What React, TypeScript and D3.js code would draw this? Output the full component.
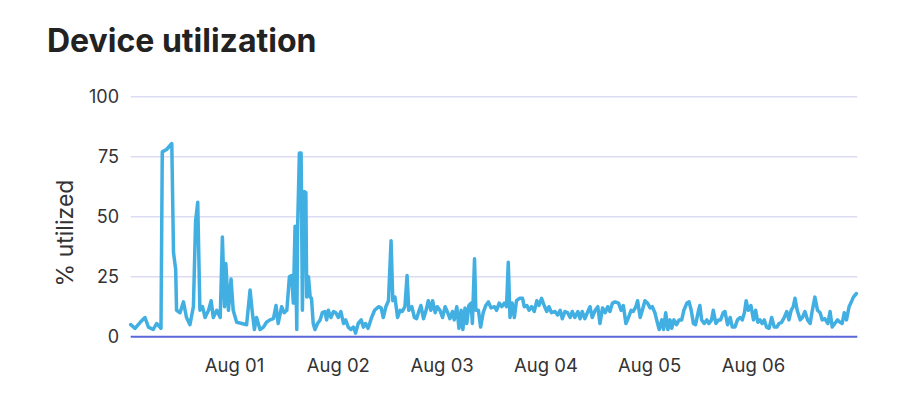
import React from "react";
import * as d3 from "d3";

const chartTitle = "Device utilization";
const yAxisLabel = "% utilized";

const startDate = new Date(2024, 6, 31);
const endDate = new Date(2024, 7, 7);
const xTickDays = [1, 2, 3, 4, 5, 6];
const yTicks = [0, 25, 50, 75, 100];

// hours since Jul 31 00:00
const sampleHours = [
  0, 1.0, 2.2, 3.3, 4.1, 5.2, 6.0, 7.0, 7.3, 8.3, 9.5, 9.9, 10.4, 10.6, 11.4, 12.2, 12.9, 13.7, 14.5, 15.0,
  15.5, 16.0, 16.6, 17.2, 18.0, 18.6, 19.1, 19.9, 20.7, 21.2, 21.7, 22.0, 22.6, 23.2, 23.7, 24.5, 25.7, 26.8,
  27.6, 28.1, 28.6, 29.1, 29.5, 29.9, 30.7, 31.4, 32.2, 33.0, 33.6, 34.1, 34.9, 35.5, 36.1, 36.7, 37.2, 37.6,
  38.0, 38.4, 38.6, 39.0, 39.4, 39.7, 40.1, 40.5, 40.7, 41.1, 41.5, 41.8, 42.2, 42.6, 43.2, 43.8, 44.3, 44.9,
  45.3, 45.7, 46.3, 46.9, 47.4, 48.0, 48.6, 49.2, 49.7, 50.3, 50.9, 51.5, 52.0, 52.6, 53.3, 53.8, 54.3, 54.9,
  55.7, 56.4, 57.3, 57.9, 58.4, 59.0, 59.6, 60.2, 60.6, 61.1, 61.7, 62.3, 62.8, 63.4, 63.9, 64.3, 65.0, 65.6,
  66.1, 66.7, 67.1, 67.7, 68.3, 68.8, 69.4, 69.8, 70.4, 70.9, 71.5, 72.1, 72.7, 73.3, 73.8, 74.4, 74.8, 75.4,
  75.9, 76.4, 76.8, 77.3, 77.7, 78.2, 78.7, 79.0, 79.5, 79.8, 80.4, 80.9, 81.5, 82.1, 82.7, 83.3, 84.1, 84.6,
  85.2, 85.8, 86.4, 86.9, 87.3, 87.7, 88.2, 88.7, 89.2, 89.9, 90.6, 91.0, 91.6, 92.1, 92.7, 93.3, 93.9, 94.4,
  95.0, 95.6, 96.2, 96.7, 97.3, 98.1, 98.7, 99.3, 99.8, 100.4, 101.0, 101.6, 102.1, 102.7, 103.4, 103.9, 104.4,
  105.0, 105.7, 106.2, 106.7, 107.4, 108.0, 108.5, 109.1, 109.7, 110.3, 110.8, 111.4, 112.0, 112.8, 113.4,
  113.9, 114.5, 115.1, 115.7, 116.2, 116.8, 117.2, 117.8, 118.3, 118.9, 119.5, 120.1, 120.6, 121.2, 121.9,
  122.2, 122.8, 123.2, 123.7, 124.2, 124.7, 125.1, 125.6, 126.2, 126.8, 127.4, 127.9, 128.6, 129.1, 129.6,
  130.1, 130.6, 131.3, 131.6, 132.0, 132.6, 133.2, 133.7, 134.3, 134.7, 135.3, 135.9, 136.4, 137.0, 137.4,
  138.0, 138.6, 139.1, 139.7, 140.3, 140.9, 141.4, 141.9, 142.3, 142.8, 143.4, 144.0, 144.5, 145.0, 145.5,
  146.0, 146.5, 147.0, 147.6, 148.2, 148.8, 149.4, 149.9, 150.5, 151.1, 151.7, 152.2, 152.7, 153.2, 153.6,
  154.1, 154.8, 155.3, 155.9, 156.5, 157.1, 157.6, 158.2, 158.8, 159.4, 159.9, 160.5, 161.2, 161.7, 162.2,
  162.8, 163.4, 164.0, 164.5, 165.0, 165.5, 166.1, 166.5, 167.1, 167.8,
];

const utilization = [
  5, 3.5, 6, 8, 4, 3, 5.5, 3.5, 77, 78, 80.5, 35, 28, 11, 10, 14.5, 8, 5, 12.5, 48,
  56, 11, 12.5, 8, 11, 15, 8, 11, 8, 41.5, 12.5, 30.5, 11, 24, 11, 6, 5.5, 5,
  19.5, 10.5, 3, 8, 5.5, 3, 4, 6, 7, 7.5, 13, 5.5, 12.5, 10, 11, 25, 25.5, 14,
  46, 3, 46, 76.5, 76.5, 11, 60.5, 60, 16.5, 25, 16.5, 16, 5.5, 3, 5.5, 7, 10, 10.5,
  7, 11, 8, 10.5, 10, 8, 10.5, 5.5, 7, 4, 3, 4, 1.5, 5.5, 7, 4, 5.5, 3.5,
  8, 11, 12.5, 12, 8, 12.5, 15, 40, 15, 16.5, 8, 11, 10.5, 12.5, 25.5, 11, 12.5, 8,
  7.5, 11, 13, 7.5, 11, 15, 11, 15, 10, 12.5, 11, 8, 12.5, 10, 7.5, 10.5, 7, 12.5,
  3.5, 11, 3, 12, 5.5, 13, 14, 5.5, 32.5, 11, 11, 4, 10, 13, 14.5, 12, 12.5, 11,
  14, 12.5, 14, 12.5, 31, 8, 14, 8, 15, 16, 16, 12.5, 13, 11, 12.5, 10.5, 15, 13,
  16, 13, 10.5, 12.5, 10, 10.5, 9, 11, 7.5, 10.5, 10, 8, 10.5, 8, 10.5, 7.5, 10.5,
  7.5, 10.5, 12.5, 8, 11, 12.5, 5.5, 12, 10, 12.5, 10.5, 14, 14.5, 14, 11,
  13, 5.5, 8, 11, 10.5, 12.5, 15, 8, 11, 15, 14, 12, 12.5, 10, 5,
  3, 7, 3, 10, 3, 7, 3.5, 7, 5, 7, 7, 11, 14, 14.5, 11,
  5.5, 5, 11, 13, 7, 5.5, 7, 5.5, 7, 11, 5.5, 7, 7, 10, 10.5,
  5, 8, 4, 4, 7, 8, 7, 10, 15, 11, 13, 7, 11, 6, 7,
  5.5, 7, 4, 3.5, 8, 4, 4, 5.5, 6, 8, 10.5, 7, 11, 12.5, 16,
  11, 7, 8, 10.5, 7, 5.5, 11, 16.5, 11, 10, 7, 7.5, 5.5, 10.5, 4,
  5.5, 7, 6, 5.5, 10, 7, 12.5, 14, 16.5, 18,
];

const width = 914;
const height = 394;
const margin = { top: 96.7, right: 56.7, bottom: 57.3, left: 130.7 };

export default function App() {
  const x = d3.scaleTime().domain([startDate, endDate]).range([margin.left, width - margin.right]);
  const y = d3.scaleLinear().domain([0, 100]).range([height - margin.bottom, margin.top]);

  const data = sampleHours.map((h, i) => ({
    date: new Date(startDate.getTime() + h * 3600 * 1000),
    value: utilization[i],
  }));

  const line = d3
    .line<{ date: Date; value: number }>()
    .x((d) => x(d.date))
    .y((d) => y(d.value));

  const fmt = d3.timeFormat("%b %d");
  const xTicks = xTickDays.map((d) => new Date(2024, 7, d));

  return (
    <svg
      width={width}
      height={height}
      style={{ position: "absolute", left: 0, top: 0, background: "#fff" }}
      fontFamily="Inter, 'Noto Sans', sans-serif"
    >
      <text x={47} y={52} fontSize={32} fontWeight={700} fill="#222">
        {chartTitle}
      </text>

      <text
        transform={`translate(73, 233) rotate(-90)`}
        textAnchor="middle"
        fontSize={23}
        fill="#333"
      >
        {yAxisLabel}
      </text>

      {yTicks.map((t) => (
        <g key={t}>
          {t > 0 && (
            <line x1={margin.left} x2={width - margin.right} y1={y(t)} y2={y(t)} stroke="#dcdcf2" strokeWidth={1.5} />
          )}
          <text x={119} y={y(t)} textAnchor="end" dominantBaseline="central" fontSize={18} fill="#333">
            {t}
          </text>
        </g>
      ))}

      <path
        d={line(data) || ""}
        fill="none"
        stroke="#42afe2"
        strokeWidth={3.5}
        strokeLinejoin="round"
        strokeLinecap="round"
      />

      <line
        x1={margin.left}
        x2={width - margin.right}
        y1={y(0)}
        y2={y(0)}
        stroke="#5a67d8"
        strokeWidth={2}
      />

      {xTicks.map((d) => (
        <text key={d.getTime()} x={x(d)} y={372} textAnchor="middle" fontSize={18.5} fill="#333">
          {fmt(d)}
        </text>
      ))}
    </svg>
  );
}
